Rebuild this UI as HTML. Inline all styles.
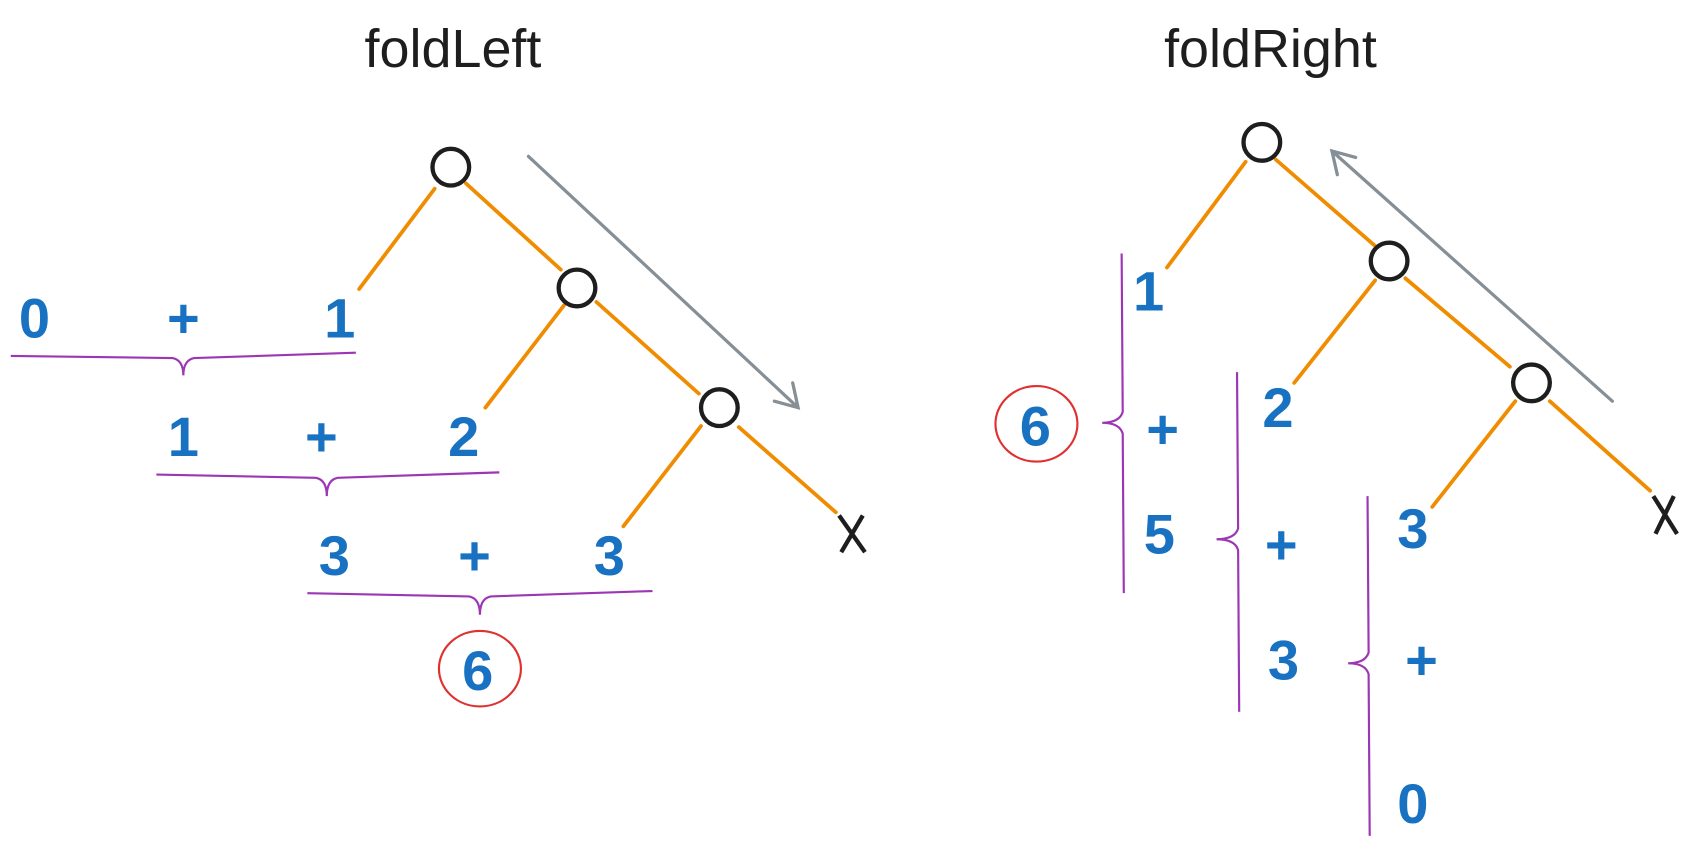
<!DOCTYPE html>
<html><head><meta charset="utf-8"><style>
body{margin:0;background:#fff;width:1691px;height:859px;overflow:hidden}
text{font-family:"Liberation Sans",sans-serif}
.n{fill:#1971c2;font-size:52px;font-weight:bold;text-anchor:middle}
.t{fill:#1e1e1e;font-size:50px;text-anchor:middle}
.o{stroke:#f08c00;stroke-width:3.5;fill:none;stroke-linecap:round}
.c{stroke:#1e1e1e;stroke-width:4;fill:none}
.p{stroke:#9c36b5;stroke-width:2;fill:none}
.g{stroke:#868e96;stroke-width:3;fill:none;stroke-linecap:round}
.r{stroke:#e03131;stroke-width:2;fill:none}
</style></head><body>
<svg width="1691" height="859">
<g transform="scale(1.0785)">
<text class="t" x="420" y="62">foldLeft</text>
<text class="t" x="1178" y="62">foldRight</text>
<g>
<line class="o" x1="403" y1="175" x2="333" y2="268"/><line class="o" x1="432" y1="170" x2="520" y2="250"/>
<line class="o" x1="523" y1="283" x2="450" y2="378"/><line class="o" x1="553" y1="280" x2="648" y2="365"/>
<line class="o" x1="650" y1="395" x2="578" y2="488"/><line class="o" x1="685" y1="396" x2="775" y2="475"/>
<circle class="c" cx="418" cy="155" r="17"/><circle class="c" cx="535" cy="267" r="17"/><circle class="c" cx="667" cy="378" r="17"/>
<path class="c" d="M778 478 L802 512 M800 478 L780 512"/>
<path class="g" d="M490 145 L740 378 M735 355 L740 378 L718 372"/>
</g>
<g>
<text class="n" x="32" y="313">0</text><text class="n" x="170" y="313">+</text><text class="n" x="315" y="313">1</text>
<path class="p" d="M10 330 L160 332 Q170 334 170 348 Q170 334 180 332 L330 327"/>
<text class="n" x="170" y="423">1</text><text class="n" x="298" y="423">+</text><text class="n" x="430" y="423">2</text>
<path class="p" d="M145 440 L293 443 Q303 445 303 460 Q303 445 313 443 L463 438"/>
<text class="n" x="310" y="533">3</text><text class="n" x="440" y="533">+</text><text class="n" x="565" y="533">3</text>
<path class="p" d="M285 550 L435 553 Q445 555 445 570 Q445 555 455 553 L605 548"/>
<text class="n" x="443" y="640">6</text>
<ellipse class="r" cx="445" cy="620" rx="38" ry="35"/>
</g>
<g>
<line class="o" x1="1155" y1="150" x2="1082" y2="248"/><line class="o" x1="1183" y1="148" x2="1275" y2="228"/>
<line class="o" x1="1275" y1="260" x2="1200" y2="355"/><line class="o" x1="1303" y1="258" x2="1400" y2="340"/>
<line class="o" x1="1405" y1="372" x2="1328" y2="470"/><line class="o" x1="1437" y1="372" x2="1530" y2="455"/>
<circle class="c" cx="1170" cy="132" r="17"/><circle class="c" cx="1288" cy="242" r="17"/><circle class="c" cx="1420" cy="355" r="17"/>
<path class="c" d="M1533 460 L1555 495 M1552 460 L1535 495"/>
<path class="g" d="M1495 372 L1235 140 M1240 162 L1235 140 L1257 146"/>
</g>
<g>
<text class="n" x="1065" y="288">1</text><text class="n" x="1185" y="396">2</text><text class="n" x="1310" y="508">3</text>
<text class="n" x="1078" y="416">+</text><text class="n" x="1075" y="513">5</text><text class="n" x="1188" y="523">+</text>
<text class="n" x="1190" y="630">3</text><text class="n" x="1318" y="630">+</text><text class="n" x="1310" y="763">0</text>
<path class="p" d="M1040 235 L1041 382 Q1038 392 1022 392 Q1038 392 1041 402 L1042 550"/>
<path class="p" d="M1147 345 L1148 490 Q1145 500 1128 500 Q1145 500 1148 510 L1149 660"/>
<path class="p" d="M1268 460 L1269 605 Q1266 615 1250 615 Q1266 615 1269 625 L1270 775"/>
<text class="n" x="960" y="413">6</text>
<ellipse class="r" cx="961" cy="393" rx="38" ry="35"/>
</g>
</g>
</svg>
</body></html>
